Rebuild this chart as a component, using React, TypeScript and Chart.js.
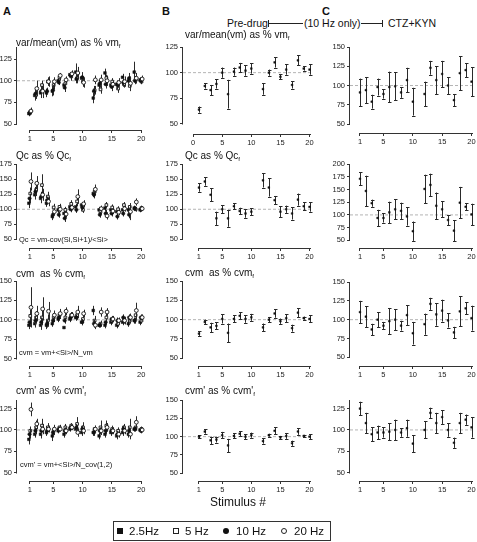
import React, { useEffect, useRef } from "react";
import { Chart, registerables } from "chart.js";
Chart.register(...registerables);

const FONT = "'Liberation Sans', Arial, Helvetica, sans-serif";

// ---------------- DATA ----------------
const stimuli = [1, 2, 3, 4, 5, 6, 7, 8, 9, 10, 12, 13, 14, 15, 16, 17, 18, 19, 20];
const xTicksMain = [1, 5, 10, 15, 20];
const xTicksB1 = [0, 5, 10, 15, 20];
const yTicks125 = [50, 75, 100, 125];
const yTicks150 = [50, 75, 100, 125, 150];
const yTicks175 = [50, 75, 100, 125, 150, 175];
const yTicks200 = [50, 75, 100, 125, 150, 175, 200];
const freqLabels = ["2.5Hz", "5 Hz", "10 Hz", "20 Hz"];

// Column A, var/mean(vm)
const a1Hz25 = [62, 83, 86, 86, 88, 100, 95, 107, 110, 103, 80, 95, 109, 95, 96, 104, 100, 110, 101];
const a1Hz25Err = [3, 6, 6, 5, 6, 3, 4, 3, 10, 5, 6, 6, 5, 4, 4, 4, 4, 12, 3];
const a1Hz5 = [64, 84, 95, 99, 95, 104, 97, 105, 103, 99, 89, 90, 103, 99, 91, 96, 94, 101, 99];
const a1Hz5Err = [3, 5, 5, 5, 5, 4, 4, 5, 6, 6, 5, 5, 4, 4, 5, 4, 6, 4, 3];
const a1Hz10 = [63, 85, 88, 88, 89, 98, 92, 106, 102, 104, 88, 97, 96, 93, 95, 98, 103, 100, 100];
const a1Hz10Err = [3, 5, 6, 4, 6, 3, 5, 3, 5, 6, 6, 5, 5, 5, 5, 5, 6, 4, 3];
const a1Hz20 = [65, 91, 88, 99, 99, 106, 101, 108, 109, 98, 101, 101, 100, 96, 98, 99, 97, 103, 102];
const a1Hz20Err = [4, 9, 8, 6, 5, 3, 4, 4, 7, 6, 5, 6, 6, 4, 5, 6, 8, 6, 4];

// Column A, Qc
const a2Hz25 = [110, 124, 118, 110, 88, 99, 93, 104, 104, 107, 126, 99, 102, 99, 96, 99, 99, 102, 99];
const a2Hz25Err = [8, 8, 8, 6, 6, 5, 6, 5, 5, 5, 6, 5, 6, 5, 5, 5, 6, 4, 4];
const a2Hz5 = [126, 132, 140, 121, 103, 104, 99, 109, 113, 99, 129, 96, 107, 103, 100, 107, 104, 100, 102];
const a2Hz5Err = [10, 10, 18, 8, 6, 5, 5, 6, 8, 5, 6, 5, 5, 5, 5, 5, 6, 4, 4];
const a2Hz10 = [118, 129, 121, 115, 91, 91, 85, 100, 99, 103, 124, 91, 93, 93, 88, 93, 91, 101, 100];
const a2Hz10Err = [8, 8, 8, 6, 6, 5, 6, 5, 5, 5, 6, 5, 6, 5, 5, 5, 6, 4, 4];
const a2Hz20 = [146, 143, 124, 113, 96, 100, 92, 103, 121, 109, 133, 101, 89, 97, 95, 101, 96, 112, 101];
const a2Hz20Err = [15, 12, 10, 8, 6, 5, 6, 5, 12, 6, 8, 5, 6, 5, 5, 5, 14, 6, 4];

// Column A, cvm
const a3Hz25 = [93, 95, 93, 93, 95, 101, 90, 101, 103, 97, 112, 93, 93, 97, 93, 97, 95, 99, 97];
const a3Hz25Err = [5, 5, 6, 5, 4, 4, 1, 4, 4, 4, 6, 3, 4, 4, 4, 4, 4, 4, 4];
const a3Hz5 = [105, 103, 103, 99, 103, 106, 103, 106, 106, 101, 99, 95, 103, 99, 95, 99, 99, 106, 99];
const a3Hz5Err = [8, 8, 10, 8, 6, 5, 6, 4, 6, 5, 6, 4, 5, 4, 4, 4, 4, 6, 4];
const a3Hz10 = [97, 99, 97, 95, 99, 103, 99, 103, 103, 97, 95, 93, 97, 101, 99, 103, 103, 99, 103];
const a3Hz10Err = [6, 6, 6, 5, 4, 4, 4, 4, 4, 4, 5, 3, 4, 4, 4, 4, 4, 4, 4];
const a3Hz20 = [116, 108, 114, 111, 106, 108, 111, 106, 110, 108, 93, 110, 110, 101, 99, 99, 103, 112, 103];
const a3Hz20Err = [26, 10, 15, 12, 6, 6, 5, 4, 8, 5, 5, 6, 5, 4, 4, 5, 5, 10, 4];

// Column A, cvm'
const a4Hz25 = [89, 95, 95, 97, 93, 99, 95, 101, 101, 97, 97, 93, 95, 97, 93, 97, 95, 101, 100];
const a4Hz25Err = [6, 4, 5, 4, 6, 3, 4, 3, 4, 4, 4, 4, 4, 4, 4, 4, 4, 3, 3];
const a4Hz5 = [99, 103, 105, 103, 99, 103, 103, 105, 107, 103, 101, 103, 105, 101, 99, 103, 103, 103, 101];
const a4Hz5Err = [5, 8, 8, 5, 5, 3, 4, 3, 8, 6, 4, 8, 6, 4, 4, 4, 10, 4, 3];
const a4Hz10 = [95, 99, 99, 99, 97, 101, 99, 103, 103, 101, 97, 99, 99, 99, 95, 101, 99, 101, 99];
const a4Hz10Err = [5, 4, 5, 4, 5, 3, 4, 3, 4, 4, 4, 4, 4, 4, 4, 4, 4, 3, 3];
const a4Hz20 = [124, 107, 101, 101, 101, 101, 99, 103, 97, 99, 101, 99, 103, 99, 95, 99, 95, 109, 100];
const a4Hz20Err = [8, 6, 6, 4, 5, 3, 4, 3, 5, 4, 4, 5, 5, 4, 4, 4, 6, 7, 3];

// Column B (pre-drug, 10 Hz only)
const b1Vals = [64, 87, 83, 89, 100, 79, 101, 105, 102, 104, 84, 100, 110, 96, 103, 88, 112, 104, 103];
const b1Errs = [3, 2.5, 5, 4.5, 5, 14, 4, 4.5, 5, 5, 5.5, 3, 5, 2.5, 5, 3.5, 5, 2, 5];
const b2Vals = [136, 146, 124, 85, 100, 85, 105, 97, 93, 96, 148, 136, 115, 96, 100, 93, 116, 105, 104];
const b2Errs = [7, 7, 11, 11, 7, 14, 5, 5.5, 7, 5.5, 12, 15, 7, 9, 6, 10, 10, 7, 8];
const b3Vals = [82, 97, 90, 92, 101, 83, 101, 105, 101, 103, 90, 100, 108, 98, 102, 89, 109, 102, 101];
const b3Errs = [3, 3, 6, 4.5, 6, 12, 4.5, 4.5, 5, 4.5, 5, 3.5, 5.5, 3.5, 5, 4.5, 5.5, 2, 4.5];
const b4Vals = [100, 107, 95, 96, 102, 88, 101, 104, 100, 102, 94, 102, 108, 99, 101, 91, 107, 101, 100];
const b4Errs = [2, 3, 5, 4, 4.5, 9, 3.5, 3.5, 3.5, 3.5, 3.5, 2, 4.5, 2, 4, 3.5, 4.5, 1.5, 3.5];

// Column C (CTZ+KYN)
const c1Vals = [91, 94, 79, 98, 89, 98, 99, 91, 107, 79, 89, 123, 107, 115, 100, 81, 116, 120, 105];
const c1Errs = [18, 17, 9, 11, 6, 20, 18, 7, 16, 18, 16, 9, 18, 17, 11, 8, 22, 9, 19];
const c2Vals = [171, 147, 123, 94, 94, 105, 111, 108, 97, 68, 151, 159, 118, 111, 90, 69, 124, 116, 101];
const c2Errs = [13, 30, 7, 16, 9, 21, 20, 16, 18, 19, 28, 22, 26, 16, 10, 21, 31, 6.5, 21];
const c3Vals = [110, 104, 87, 100, 92, 98, 100, 92, 106, 82, 94, 121, 107, 112, 99, 83, 111, 115, 102];
const c3Errs = [15, 14, 7.5, 10, 5, 17.5, 14, 6.5, 13, 15, 14, 8, 15, 14.5, 9.5, 7.5, 20, 8, 16.5];
const c4Vals = [125, 108, 95, 97, 97, 98, 100, 97, 102, 84, 100, 120, 108, 115, 100, 85, 108, 112, 103];
const c4Errs = [8, 12, 8, 8, 6, 10, 12, 5, 10, 10, 10, 6, 12, 8, 8, 6, 12, 6, 12];

// ---------------- LAYOUT / STYLE ----------------
type SeriesDef = { label: string; values: number[]; errors: number[]; style: string; filled: boolean; offset: number; radius: number; cap: number };
type Panel = {
  axisX: number; p1: number; p20: number;
  yTopPx: number; vTop: number; y50: number; xAxisY: number; axisTop: number;
  yTicks: number[]; xTicks: number[]; series: SeriesDef[];
};

const colA = { axisX: 17, p1: 30, p20: 142 };
const colB = { axisX: 183, p1: 199, p20: 310 };
const colC = { axisX: 350, p1: 360, p20: 472 };

function freqSeries(v25: number[], e25: number[], v5: number[], e5: number[], v10: number[], e10: number[], v20: number[], e20: number[]): SeriesDef[] {
  return [
    { label: freqLabels[0], values: v25, errors: e25, style: "rect", filled: true, offset: -0.18, radius: 1.9, cap: 0 },
    { label: freqLabels[1], values: v5, errors: e5, style: "rect", filled: false, offset: 0.06, radius: 1.9, cap: 0 },
    { label: freqLabels[2], values: v10, errors: e10, style: "circle", filled: true, offset: -0.06, radius: 1.7, cap: 0 },
    { label: freqLabels[3], values: v20, errors: e20, style: "circle", filled: false, offset: 0.18, radius: 1.9, cap: 0 },
  ];
}
function single(values: number[], errors: number[]): SeriesDef[] {
  return [{ label: "10 Hz", values, errors, style: "rect", filled: true, offset: 0, radius: 1.2, cap: 1.5 }];
}

const panels: Panel[] = [
  { ...colA, yTopPx: 59, vTop: 125, y50: 124, xAxisY: 130, axisTop: 139, yTicks: yTicks125, xTicks: xTicksMain, series: freqSeries(a1Hz25, a1Hz25Err, a1Hz5, a1Hz5Err, a1Hz10, a1Hz10Err, a1Hz20, a1Hz20Err) },
  { ...colA, yTopPx: 164, vTop: 175, y50: 239.7, xAxisY: 248.3, axisTop: 175, yTicks: yTicks175, xTicks: xTicksMain, series: freqSeries(a2Hz25, a2Hz25Err, a2Hz5, a2Hz5Err, a2Hz10, a2Hz10Err, a2Hz20, a2Hz20Err) },
  { ...colA, yTopPx: 280.7, vTop: 150, y50: 358.3, xAxisY: 365.7, axisTop: 150, yTicks: yTicks150, xTicks: xTicksMain, series: freqSeries(a3Hz25, a3Hz25Err, a3Hz5, a3Hz5Err, a3Hz10, a3Hz10Err, a3Hz20, a3Hz20Err) },
  { ...colA, yTopPx: 408.7, vTop: 125, y50: 472.7, xAxisY: 481, axisTop: 135, yTicks: yTicks125, xTicks: xTicksMain, series: freqSeries(a4Hz25, a4Hz25Err, a4Hz5, a4Hz5Err, a4Hz10, a4Hz10Err, a4Hz20, a4Hz20Err) },
  { ...colB, yTopPx: 46.7, vTop: 125, y50: 123.3, xAxisY: 133.3, axisTop: 125, yTicks: yTicks125, xTicks: xTicksB1, series: single(b1Vals, b1Errs) },
  { ...colB, yTopPx: 164, vTop: 175, y50: 239.7, xAxisY: 248.3, axisTop: 175, yTicks: yTicks175, xTicks: xTicksMain, series: single(b2Vals, b2Errs) },
  { ...colB, yTopPx: 280.7, vTop: 150, y50: 358.3, xAxisY: 366, axisTop: 150, yTicks: yTicks150, xTicks: xTicksMain, series: single(b3Vals, b3Errs) },
  { ...colB, yTopPx: 400, vTop: 150, y50: 473.3, xAxisY: 481, axisTop: 150, yTicks: yTicks150, xTicks: xTicksMain, series: single(b4Vals, b4Errs) },
  { ...colC, yTopPx: 46.7, vTop: 150, y50: 124, xAxisY: 133, axisTop: 150, yTicks: yTicks150, xTicks: xTicksMain, series: single(c1Vals, c1Errs) },
  { ...colC, yTopPx: 163.7, vTop: 200, y50: 239.7, xAxisY: 247.3, axisTop: 200, yTicks: yTicks200, xTicks: xTicksMain, series: single(c2Vals, c2Errs) },
  { ...colC, yTopPx: 281.7, vTop: 150, y50: 357.3, xAxisY: 366, axisTop: 150, yTicks: yTicks150, xTicks: xTicksMain, series: single(c3Vals, c3Errs) },
  { ...colC, yTopPx: 408.7, vTop: 125, y50: 472.7, xAxisY: 481, axisTop: 135, yTicks: yTicks125, xTicks: xTicksMain, series: single(c4Vals, c4Errs) },
];

const YW = 24, XH = 16, PT = 8, PR = 4, RIGHT_EXTRA = 5;

function geometry(p: Panel) {
  const u = (p.p20 - p.p1) / 19;
  const xmin = 1 - (p.p1 - p.axisX) / u;
  const xmax = 20 + RIGHT_EXTRA / u;
  const k = (p.y50 - p.yTopPx) / (p.vTop - 50);
  const chartTop = p.y50 - (p.axisTop - 50) * k;
  const ymin = 50 - (p.xAxisY - p.y50) / k;
  const left = p.axisX - YW;
  const top = chartTop - PT;
  const w = Math.round(p.p20 + RIGHT_EXTRA - p.axisX + YW + PR);
  const h = Math.round(p.xAxisY - chartTop + XH + PT);
  return { xmin, xmax, ymin, ymax: p.axisTop, left, top, w, h };
}

const errorBarPlugin = {
  id: "errorBars",
  beforeDatasetDraw(chart: any, args: any) {
    const ds = chart.data.datasets[args.index];
    if (!ds.errors) return;
    const { ctx } = chart;
    const xs = chart.scales.x, ys = chart.scales.y;
    ctx.save();
    ctx.strokeStyle = "#2a2a2a";
    ctx.lineWidth = 1;
    ds.data.forEach((pt: any, i: number) => {
      const e = ds.errors[i];
      const x = Math.round(xs.getPixelForValue(pt.x)) + 0.5;
      const y1 = ys.getPixelForValue(pt.y - e);
      const y2 = ys.getPixelForValue(pt.y + e);
      ctx.beginPath();
      ctx.moveTo(x, y1);
      ctx.lineTo(x, y2);
      if (ds.cap) {
        ctx.moveTo(x - ds.cap, Math.round(y1) + 0.5);
        ctx.lineTo(x + ds.cap + 0.5, Math.round(y1) + 0.5);
        ctx.moveTo(x - ds.cap, Math.round(y2) + 0.5);
        ctx.lineTo(x + ds.cap + 0.5, Math.round(y2) + 0.5);
      }
      ctx.stroke();
    });
    ctx.restore();
  },
};

const axisLinePlugin = {
  id: "axisLines",
  afterDraw(chart: any) {
    const o = chart.options.plugins.axisLines;
    if (!o) return;
    const { ctx, chartArea } = chart;
    const xs = chart.scales.x, ys = chart.scales.y;
    ctx.save();
    ctx.strokeStyle = "#333";
    ctx.lineWidth = 1;
    const ax = Math.round(chartArea.left) - 0.5;
    ctx.beginPath();
    ctx.moveTo(ax, Math.round(ys.getPixelForValue(o.yFrom)) + 0.5);
    ctx.lineTo(ax, Math.round(ys.getPixelForValue(o.yTo)));
    const by = Math.round(chartArea.bottom) + 0.5;
    ctx.moveTo(Math.round(xs.getPixelForValue(o.xFrom)), by);
    ctx.lineTo(Math.round(xs.getPixelForValue(o.xTo)) + 1, by);
    ctx.stroke();
    ctx.restore();
  },
};

function buildConfig(p: Panel): any {
  const g = geometry(p);
  const datasets: any[] = p.series.map((s, si) => ({
    label: s.label,
    data: stimuli.map((st, i) => ({ x: st + s.offset, y: s.values[i] })),
    errors: s.errors,
    cap: s.cap,
    pointStyle: s.style,
    pointRadius: s.radius,
    pointBackgroundColor: s.filled ? "#111" : "#fff",
    pointBorderColor: "#111",
    pointBorderWidth: s.filled ? 0.5 : 0.9,
    showLine: false,
    clip: false,
    order: 4 - si,
  }));
  datasets.push({
    label: "ref",
    data: [{ x: g.xmin, y: 100 }, { x: 20.35, y: 100 }],
    showLine: true,
    borderColor: "#b4b4b4",
    borderWidth: 1,
    borderDash: [3, 2],
    pointRadius: 0,
    clip: false,
    order: 20,
  });
  const tickFont = { size: 7.5, family: FONT };
  return {
    type: "scatter",
    data: { datasets },
    plugins: [errorBarPlugin, axisLinePlugin],
    options: {
      responsive: false,
      animation: false,
      events: [],
      layout: { padding: { top: PT, right: PR, left: 0, bottom: 0 } },
      plugins: {
        legend: { display: false },
        tooltip: { enabled: false },
        axisLines: { yFrom: 50, yTo: p.axisTop, xFrom: p.xTicks[0], xTo: 20 },
      },
      scales: {
        x: {
          type: "linear",
          min: g.xmin,
          max: g.xmax,
          border: { display: false },
          grid: { display: true, drawOnChartArea: false, drawTicks: true, tickLength: 3, color: "#333", lineWidth: 1 },
          ticks: { autoSkip: false, maxRotation: 0, padding: 1, font: tickFont, color: "#222" },
          afterBuildTicks: (a: any) => { a.ticks = p.xTicks.map((v) => ({ value: v })); },
          afterFit: (s: any) => { s.height = XH; },
        },
        y: {
          type: "linear",
          min: g.ymin,
          max: g.ymax,
          border: { display: false },
          grid: { display: true, drawOnChartArea: false, drawTicks: true, tickLength: 3, color: "#333", lineWidth: 1 },
          ticks: { autoSkip: false, padding: 2, font: tickFont, color: "#222" },
          afterBuildTicks: (a: any) => { a.ticks = p.yTicks.map((v) => ({ value: v })); },
          afterFit: (s: any) => { s.width = YW; },
        },
      },
    },
  };
}

function PanelChart({ p }: { p: Panel }) {
  const ref = useRef<HTMLCanvasElement>(null);
  const g = geometry(p);
  useEffect(() => {
    const chart = new Chart(ref.current as HTMLCanvasElement, buildConfig(p));
    return () => chart.destroy();
  }, []);
  return (
    <canvas
      ref={ref}
      width={g.w}
      height={g.h}
      style={{ position: "absolute", left: g.left, top: g.top, width: g.w, height: g.h }}
    />
  );
}

function Txt({ x, y, size, bold, children }: { x: number; y: number; size: number; bold?: boolean; children: any }) {
  const lh = Math.round(size * 1.3);
  return (
    <div
      style={{
        position: "absolute", left: x, top: y - lh / 2, fontSize: size, lineHeight: lh + "px",
        fontFamily: FONT, fontWeight: bold ? 700 : 400, whiteSpace: "nowrap", color: "#111",
      }}
    >
      {children}
    </div>
  );
}

const Sub = ({ children }: { children: any }) => (
  <span style={{ fontSize: "0.62em", verticalAlign: "-0.25em" }}>{children}</span>
);

function Sym({ x, y, kind }: { x: number; y: number; kind: string }) {
  const base: any = { position: "absolute", boxSizing: "border-box" };
  if (kind === "fsq") return <div style={{ ...base, left: x - 3, top: y - 3, width: 6, height: 6, background: "#111" }} />;
  if (kind === "osq") return <div style={{ ...base, left: x - 3, top: y - 3, width: 6, height: 6, border: "1px solid #222", background: "#fff" }} />;
  if (kind === "fci") return <div style={{ ...base, left: x - 3, top: y - 3, width: 6, height: 6, borderRadius: "50%", background: "#111" }} />;
  return <div style={{ ...base, left: x - 3, top: y - 3, width: 6, height: 6, borderRadius: "50%", border: "1px solid #222", background: "#fff" }} />;
}

export default function App() {
  return (
    <div style={{ position: "fixed", left: 0, top: 0, width: 477, height: 542, background: "#fff", overflow: "hidden" }}>
      {panels.map((p, i) => <PanelChart key={i} p={p} />)}

      <Txt x={3} y={11} size={11} bold>A</Txt>
      <Txt x={162} y={11} size={11} bold>B</Txt>
      <Txt x={322} y={11} size={11} bold>C</Txt>

      <Txt x={227} y={23} size={10.5}>Pre-drug</Txt>
      <div style={{ position: "absolute", left: 268, top: 20, width: 1, height: 7, background: "#222" }} />
      <div style={{ position: "absolute", left: 268, top: 23, width: 35, height: 1, background: "#222" }} />
      <Txt x={304} y={23} size={10.5}>(10 Hz only)</Txt>
      <div style={{ position: "absolute", left: 361, top: 23, width: 21, height: 1, background: "#222" }} />
      <div style={{ position: "absolute", left: 382, top: 20, width: 1, height: 7, background: "#222" }} />
      <Txt x={388} y={23} size={10.5}>CTZ+KYN</Txt>

      <Txt x={16} y={42} size={10}>var/mean(vm) as % vm<Sub>f</Sub></Txt>
      <Txt x={185} y={34} size={10}>var/mean(vm) as % vm<Sub>f</Sub></Txt>
      <Txt x={16} y={155} size={10}>Qc as % Qc<Sub>f</Sub></Txt>
      <Txt x={185} y={155} size={10}>Qc as % Qc<Sub>f</Sub></Txt>
      <Txt x={16} y={273} size={10}>cvm&nbsp; as % cvm<Sub>f</Sub></Txt>
      <Txt x={185} y={272} size={10}>cvm&nbsp; as % cvm<Sub>f</Sub></Txt>
      <Txt x={16} y={390} size={10}>cvm' as % cvm'<Sub>f</Sub></Txt>
      <Txt x={185} y={390} size={10}>cvm' as % cvm'<Sub>f</Sub></Txt>

      <Txt x={19} y={240} size={7.5}>{"Qc = vm-cov(Si,Si+1)/<Si>"}</Txt>
      <Txt x={19} y={353} size={7.5}>{"cvm = vm+<Si>/N_vm"}</Txt>
      <Txt x={20} y={465} size={7.5}>{"cvm' = vm+<Si>/N_cov(1,2)"}</Txt>

      <Txt x={210} y={502} size={12}>Stimulus #</Txt>

      <div style={{ position: "absolute", left: 113, top: 521, width: 218, height: 20, border: "1px solid #333", boxSizing: "border-box" }} />
      <Sym x={120} y={531} kind="fsq" />
      <Txt x={129} y={531} size={11.5}>{freqLabels[0]}</Txt>
      <Sym x={176} y={531} kind="osq" />
      <Txt x={185} y={531} size={11.5}>{freqLabels[1]}</Txt>
      <Sym x={226} y={531} kind="fci" />
      <Txt x={236} y={531} size={11.5}>{freqLabels[2]}</Txt>
      <Sym x={284} y={531} kind="oci" />
      <Txt x={294} y={531} size={11.5}>{freqLabels[3]}</Txt>
    </div>
  );
}
